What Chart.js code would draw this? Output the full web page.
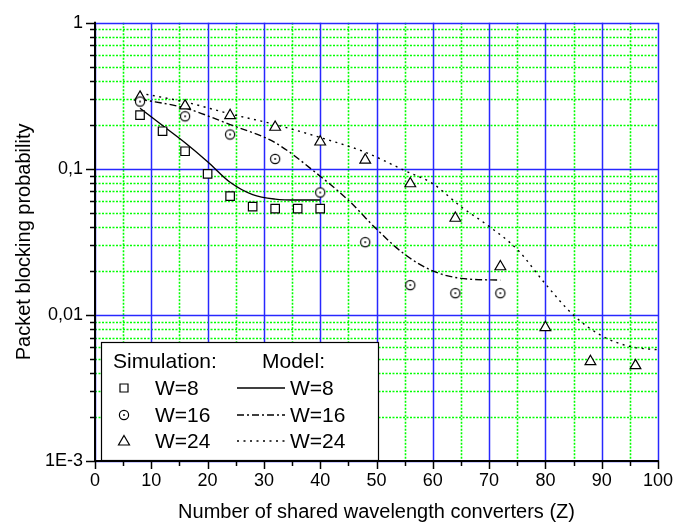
<!DOCTYPE html>
<html><head><meta charset="utf-8">
<script src="https://cdn.jsdelivr.net/npm/chart.js@4/dist/chart.umd.min.js"></script>
<style>html,body{margin:0;padding:0;background:#fff;}#wrap{width:689px;height:526px;}</style>
</head><body><div id="wrap"><canvas id="c" width="689" height="526"></canvas></div>
<script>
// ---- data ----
const zSimW8  = [8,12,16,20,24,28,32,36,40];
const pSimW8  = [0.233,0.181,0.132,0.0925,0.065,0.0551,0.0534,0.0534,0.0534];
const zSimW16 = [8,16,24,32,40,48,56,64,72];
const pSimW16 = [0.289,0.229,0.172,0.117,0.0689,0.0315,0.016,0.0141,0.0141];
const zSimW24 = [8,16,24,32,40,48,56,64,72,80,88,96];
const pSimW24 = [0.31,0.27,0.232,0.193,0.153,0.115,0.0792,0.046,0.0214,0.0082,0.0048,0.0045];

const zModW8  = [8,12,16,20,24,28,32,36,40];
const pModW8  = [0.26,0.198,0.151,0.112,0.081,0.0667,0.0621,0.0612,0.0612];
const zModW16 = [8,16,24,32,40,45,50,55,60,65,72];
const pModW16 = [0.30,0.261,0.201,0.151,0.089,0.061,0.0387,0.026,0.020,0.0178,0.0173];
const zModW24 = [8,16,24,32,40,48,55,60,65,70,75,80,85,90,95,100];
const pModW24 = [0.33,0.287,0.238,0.201,0.164,0.130,0.0974,0.0792,0.0551,0.0404,0.0281,0.0163,0.00995,0.0072,0.00608,0.00577];

const xTickValues = [0,10,20,30,40,50,60,70,80,90,100];
const xMinorValues = [5,15,25,35,45,55,65,75,85,95];
const yDecadeValues = [0.001, 0.01, 0.1, 1];
const yDecadeLabels = ['1E-3', '0,01', '0,1', '1'];
const yMinorMultipliers = [2,3,4,5,6,7,8,9];

const xTitle = 'Number of shared wavelength converters (Z)';
const yTitle = 'Packet blocking probability';
const legendSimHeader = 'Simulation:';
const legendModHeader = 'Model:';
const legendLabels = ['W=8', 'W=16', 'W=24'];

const FONT = '"Liberation Sans", Arial, Helvetica, sans-serif';
const pts = (xs, ys) => xs.map((x, i) => ({x, y: ys[i]}));

const yMinorValues = [];
yDecadeValues.slice(0, -1).forEach(d => yMinorMultipliers.forEach(m => yMinorValues.push(+(m * d).toPrecision(3))));

// circle marker with a centre dot
function circleDot(r) {
  const c = document.createElement('canvas');
  const s = Math.ceil(r * 2 + 4);
  c.width = s; c.height = s;
  const g = c.getContext('2d');
  g.fillStyle = '#fff';
  g.strokeStyle = '#000';
  g.lineWidth = 1.2;
  g.beginPath(); g.arc(s/2, s/2, r, 0, Math.PI*2); g.fill(); g.stroke();
  g.fillStyle = '#000';
  g.beginPath(); g.arc(s/2, s/2, 0.9, 0, Math.PI*2); g.fill();
  return c;
}
const circImg = circleDot(4.6);

const DASH16 = [7,3,2,3];
const DASH24 = [2,4.5];
const BLUE = '#2828ff';
const GREEN = '#00ff00';

const lineDs = (label, xs, ys, dash) => ({
  label, data: pts(xs, ys), showLine: true, borderColor: '#000', borderWidth: 1.4,
  borderDash: dash, pointRadius: 0, cubicInterpolationMode: 'monotone', fill: false, order: 2
});
const pointDs = (label, xs, ys, style, r) => ({
  label, data: pts(xs, ys), showLine: false, pointStyle: style, pointRadius: r,
  pointBorderColor: '#000', pointBackgroundColor: '#fff', pointBorderWidth: 1.2, order: 1
});

function hLine(ctx, a, py) { ctx.beginPath(); ctx.moveTo(a.left, py); ctx.lineTo(a.right, py); ctx.stroke(); }
function vLine(ctx, a, px) { ctx.beginPath(); ctx.moveTo(px, a.top); ctx.lineTo(px, a.bottom); ctx.stroke(); }

const gridPlugin = {
  id: 'gridAxes',
  beforeDatasetsDraw(chart) {
    const {ctx, chartArea: a, scales: {x, y}} = chart;
    ctx.save();
    // minor grid: green dotted
    ctx.lineWidth = 1.6;
    ctx.strokeStyle = GREEN;
    ctx.setLineDash([2,1.5]);
    xMinorValues.forEach(v => vLine(ctx, a, Math.round(x.getPixelForValue(v)) + 0.5));
    yMinorValues.forEach(v => hLine(ctx, a, Math.round(y.getPixelForValue(v)) + 0.5));
    // major grid: blue solid
    ctx.setLineDash([]);
    ctx.strokeStyle = BLUE;
    ctx.lineWidth = 1.5;
    xTickValues.forEach(v => vLine(ctx, a, Math.round(x.getPixelForValue(v)) + 0.5));
    yDecadeValues.forEach(v => hLine(ctx, a, Math.round(y.getPixelForValue(v)) + 0.5));
    // axes
    ctx.strokeStyle = '#000';
    ctx.lineWidth = 2;
    ctx.beginPath(); ctx.moveTo(a.left, a.top - 1); ctx.lineTo(a.left, a.bottom); ctx.lineTo(a.right + 1, a.bottom); ctx.stroke();
    ctx.lineWidth = 1.5;
    yDecadeValues.forEach(v => {
      const py = Math.round(y.getPixelForValue(v)) + 0.5;
      ctx.beginPath(); ctx.moveTo(a.left, py); ctx.lineTo(a.left - 9, py); ctx.stroke();
    });
    yMinorValues.forEach(v => {
      const py = Math.round(y.getPixelForValue(v)) + 0.5;
      ctx.beginPath(); ctx.moveTo(a.left, py); ctx.lineTo(a.left - 5, py); ctx.stroke();
    });
    xTickValues.forEach(v => {
      const px = Math.round(x.getPixelForValue(v)) + 0.5;
      ctx.beginPath(); ctx.moveTo(px, a.bottom); ctx.lineTo(px, a.bottom + 8); ctx.stroke();
    });
    xMinorValues.forEach(v => {
      const px = Math.round(x.getPixelForValue(v)) + 0.5;
      ctx.beginPath(); ctx.moveTo(px, a.bottom); ctx.lineTo(px, a.bottom + 5); ctx.stroke();
    });
    ctx.restore();
  },
  afterDatasetsDraw(chart) {
    const {ctx} = chart;
    ctx.save();
    // legend box
    const L = 101, T = 342, R = 378, B = 460;
    ctx.fillStyle = '#fff';
    ctx.fillRect(L, T, R - L, B - T);
    ctx.strokeStyle = '#000';
    ctx.lineWidth = 1.2;
    ctx.strokeRect(L + 0.5, T + 0.5, R - L, B - T);
    ctx.fillStyle = '#000';
    ctx.font = '21px ' + FONT;
    ctx.textBaseline = 'middle';
    ctx.textAlign = 'left';
    ctx.fillText(legendSimHeader, 113, 362);
    ctx.fillText(legendModHeader, 262, 362);
    const rows = [388, 415, 441];
    const dashes = [[], DASH16, DASH24];
    rows.forEach((ry, i) => {
      ctx.fillText(legendLabels[i], 155, ry + 1);
      ctx.fillText(legendLabels[i], 290, ry + 1);
      ctx.setLineDash(dashes[i]);
      ctx.lineWidth = 1.4;
      ctx.beginPath(); ctx.moveTo(237, ry); ctx.lineTo(285, ry); ctx.stroke();
      ctx.setLineDash([]);
      ctx.lineWidth = 1.2;
      const mx = 124;
      ctx.beginPath();
      if (i === 0) {
        ctx.rect(mx - 4, ry - 4, 8, 8);
        ctx.stroke();
      } else if (i === 1) {
        ctx.drawImage(circImg, mx - circImg.width/2, ry - circImg.height/2);
      } else {
        ctx.moveTo(mx, ry - 5.5); ctx.lineTo(mx + 5.5, ry + 4); ctx.lineTo(mx - 5.5, ry + 4); ctx.closePath();
        ctx.stroke();
      }
    });
    ctx.restore();
  }
};

const yAllTicks = [...yDecadeValues, ...yMinorValues].sort((p, q) => p - q);

new Chart(document.getElementById('c'), {
  type: 'line',
  data: {
    datasets: [
      lineDs('Model W=8', zModW8, pModW8, []),
      lineDs('Model W=16', zModW16, pModW16, DASH16),
      lineDs('Model W=24', zModW24, pModW24, DASH24),
      pointDs('Sim W=8', zSimW8, pSimW8, 'rect', 6),
      pointDs('Sim W=16', zSimW16, pSimW16, circImg, 5),
      pointDs('Sim W=24', zSimW24, pSimW24, 'triangle', 6.2)
    ]
  },
  options: {
    responsive: false,
    animation: false,
    devicePixelRatio: 1,
    layout: {padding: {top: 17, right: 31, left: 0, bottom: 0}},
    plugins: {legend: {display: false}, tooltip: {enabled: false}},
    scales: {
      x: {
        type: 'linear', min: 0, max: 100,
        afterBuildTicks: s => { s.ticks = xTickValues.map(v => ({value: v})); },
        afterFit: s => { s.height = 65; },
        grid: {display: false, drawTicks: false},
        border: {display: false},
        ticks: {color: '#000', font: {family: FONT, size: 18}, padding: 9, maxRotation: 0,
                callback: (v) => String(v)},
        title: {display: true, text: xTitle, color: '#000', font: {family: FONT, size: 20}, padding: {top: 0, bottom: 2}}
      },
      y: {
        type: 'logarithmic', min: 0.001, max: 1,
        afterBuildTicks: s => { s.ticks = yAllTicks.map(v => ({value: v})); },
        afterFit: s => { s.width = 95; },
        grid: {display: false, drawTicks: false},
        border: {display: false},
        ticks: {color: '#000', font: {family: FONT, size: 18}, padding: 12, autoSkip: false,
                callback: (v) => {
                  const i = yDecadeValues.findIndex(d => Math.abs(d - v) / d < 1e-6);
                  return i >= 0 ? yDecadeLabels[i] : '';
                }},
        title: {display: true, text: yTitle, color: '#000', font: {family: FONT, size: 20}, padding: {top: 12, bottom: 0}}
      }
    }
  },
  plugins: [gridPlugin]
});
</script></body></html>
